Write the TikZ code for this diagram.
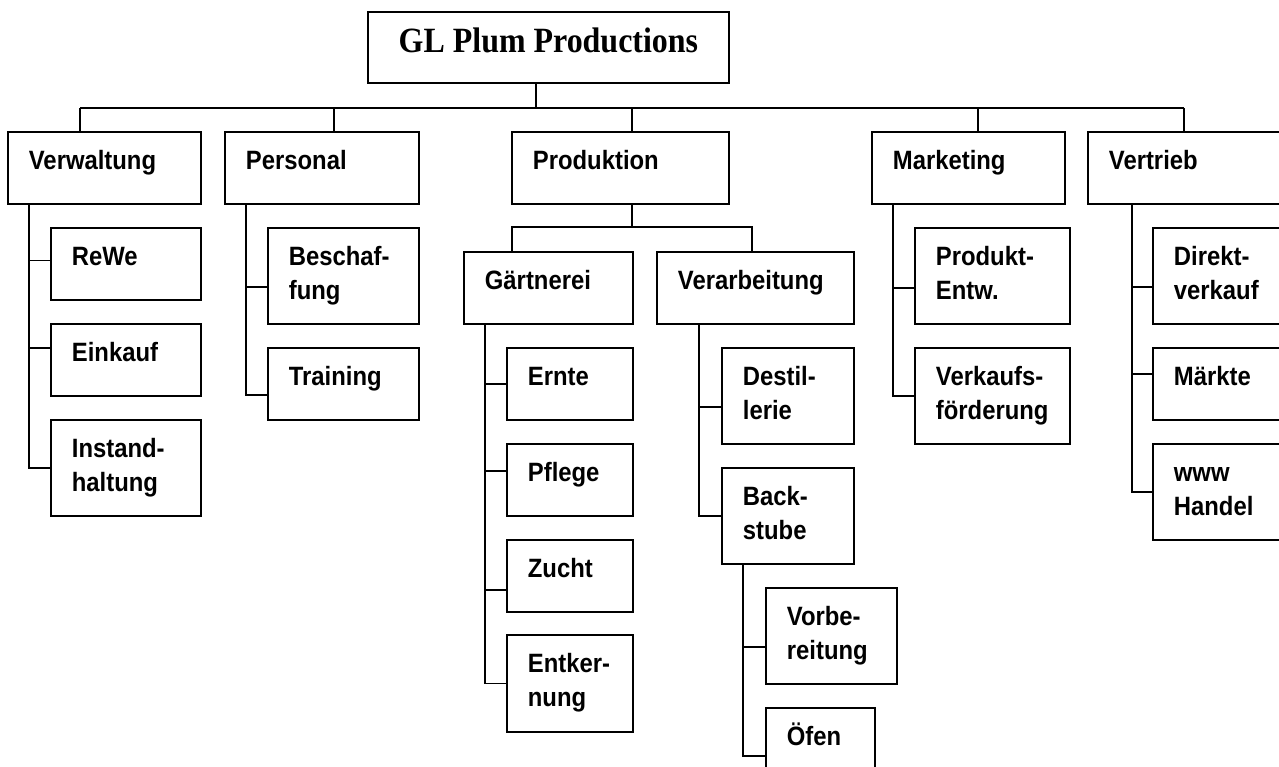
\documentclass[tikz,border=0pt]{standalone}
\usepackage{fontspec}
\newfontfamily\boxfont{Liberation Sans}[FakeStretch=0.9]
\newfontfamily\headfont{Liberation Serif}[FakeStretch=0.9]
\usetikzlibrary{calc}
\tikzset{
  head/.style={draw, line width=1.8pt, anchor=north west, inner sep=0pt,
    minimum width=361pt, text height=41pt, text depth=30pt,
    font=\headfont\bfseries\fontsize{35.5}{40}\selectfont},
  unit/.style 2 args={draw, line width=1.8pt, anchor=north west,
    inner xsep=21pt, inner ysep=0pt, align=left,
    /utils/exec={\pgfmathsetlengthmacro\boxtw{#1-42}\pgfmathsetlengthmacro\boxdp{#2-38}},
    text width=\boxtw, text height=38pt, text depth=\boxdp,
    font=\boxfont\bfseries\fontsize{26.5}{34}\selectfont},
  link/.style={line width=1.2pt}
}
\begin{document}
\begin{tikzpicture}[x=1pt, y=-1pt]
\useasboundingbox (0,0) rectangle (1279,767);
\clip (0,0) rectangle (1279,767);
% top
\node[head] (top) at (367,11) {GL Plum Productions};
% departments
\node[unit={193}{72}] (verw) at (7,131) {Verwaltung};
\node[unit={194}{72}] (pers) at (224,131) {Personal};
\node[unit={217}{72}] (prod) at (511,131) {Produktion};
\node[unit={193}{72}] (mark) at (871,131) {Marketing};
\node[unit={210}{72}] (vert) at (1087,131) {Vertrieb};
% Verwaltung
\node[unit={150}{72}] (rewe) at (50,227) {ReWe};
\node[unit={150}{72}] (einkauf) at (50,323) {Einkauf};
\node[unit={150}{96}] (instand) at (50,419) {Instand-\\haltung};
% Personal
\node[unit={151}{96}] (besch) at (267,227) {Beschaf-\\fung};
\node[unit={151}{72}] (training) at (267,347) {Training};
% Produktion
\node[unit={169}{72}] (gaert) at (463,251) {Gärtnerei};
\node[unit={197}{72}] (verarb) at (656,251) {Verarbeitung};
\node[unit={126}{72}] (ernte) at (506,347) {Ernte};
\node[unit={126}{72}] (pflege) at (506,443) {Pflege};
\node[unit={126}{72}] (zucht) at (506,539) {Zucht};
\node[unit={126}{97}] (entkern) at (506,634) {Entker-\\nung};
\node[unit={132}{96}] (destil) at (721,347) {Destil-\\lerie};
\node[unit={132}{96}] (back) at (721,467) {Back-\\stube};
\node[unit={131}{96}] (vorb) at (765,587) {Vorbe-\\reitung};
\node[unit={109}{72}] (ofen) at (765,707) {Öfen};
% Marketing
\node[unit={155}{96}] (produkt) at (914,227) {Produkt-\\Entw.};
\node[unit={155}{96}] (verkauf) at (914,347) {Verkaufs-\\förderung};
% Vertrieb
\node[unit={145}{96}] (direkt) at (1152,227) {Direkt-\\verkauf};
\node[unit={145}{72}] (maerkte) at (1152,347) {Märkte};
\node[unit={145}{96}] (www) at (1152,443) {www\\Handel};

% main bus
\coordinate (d1) at (80,108);
\coordinate (d2) at (334,108);
\coordinate (d3) at (632,108);
\coordinate (d4) at (978,108);
\coordinate (d5) at (1184,108);
\coordinate (bus) at (536,108);
\draw[link] (top.south -| bus) -- (bus);
\draw[link] (d1) -- (d5);
\foreach \d/\n in {d1/verw,d2/pers,d3/prod,d4/mark,d5/vert}
  \draw[link] (\d) -- (\n.north -| \d);

% Produktion bus
\coordinate (pb) at (632,227);
\coordinate (g1) at (512,227);
\coordinate (g2) at (752,227);
\draw[link] (prod.south -| pb) -- (pb);
\draw[link] (gaert.north -| g1) -- (g1) -- (g2) -- (verarb.north -| g2);

% spines
\coordinate (sverw) at (29,0);
\coordinate (spers) at (246,0);
\coordinate (sgaert) at (485,0);
\coordinate (sverarb) at (699,0);
\coordinate (sback) at (743,0);
\coordinate (smark) at (893,0);
\coordinate (svert) at (1132,0);
\foreach \kid/\dy/\up in {rewe/3/verw, einkauf/12/verw, instand/0/verw,
    besch/-11/pers, training/-11/pers,
    ernte/0/gaert, pflege/9/gaert, zucht/-14/gaert, entkern/0/gaert,
    destil/-11/verarb, back/0/verarb,
    vorb/-11/back, ofen/-12/back,
    produkt/-12/mark, verkauf/0/mark,
    direkt/-11/vert, maerkte/10/vert, www/0/vert}
  \draw[link] ([yshift=\dy]\kid.west) -| (\up.south -| s\up);
\end{tikzpicture}
\end{document}
